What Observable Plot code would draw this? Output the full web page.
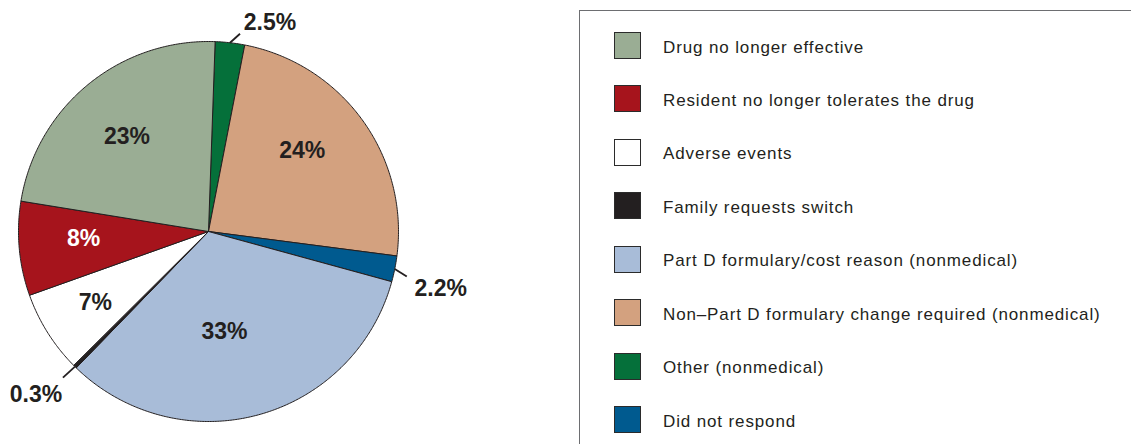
<!DOCTYPE html>
<html><head><meta charset="utf-8">
<script src="https://cdn.jsdelivr.net/npm/d3@7"></script>
<script src="https://cdn.jsdelivr.net/npm/@observablehq/plot@0.6"></script>
<style>
html,body{margin:0;padding:0;background:#fff;overflow:hidden;width:1131px;height:444px}
#wrap{position:relative;width:1131px;height:444px;overflow:hidden}
#pie{position:absolute;left:0;top:0}
#legend{position:absolute;left:579px;top:10px;width:620px;height:520px;border:1px solid #6d6e71;box-sizing:border-box}
.item{position:absolute;left:34px;height:27px;display:flex;align-items:center;white-space:nowrap}
.sw{width:25px;height:25px;border:1px solid #2b2b2b;margin-right:22px;flex:none}
.lab{font-family:"Liberation Sans",Arial,sans-serif;font-size:17px;letter-spacing:0.87px;color:#231f20;position:relative;top:2px}
</style></head>
<body><div id="wrap"><div id="pie"></div><div id="legend"></div></div>
<script>
// Legend order
const categories = [
  "Drug no longer effective",
  "Resident no longer tolerates the drug",
  "Adverse events",
  "Family requests switch",
  "Part D formulary/cost reason (nonmedical)",
  "Non\u2013Part D formulary change required (nonmedical)",
  "Other (nonmedical)",
  "Did not respond"
];
const values = [23, 8, 7, 0.3, 33, 24, 2.5, 2.2];
const valueLabels = ["23%", "8%", "7%", "0.3%", "33%", "24%", "2.5%", "2.2%"];
const colors = ["#9aad94", "#a6141c", "#ffffff", "#231f20", "#a8bcd8", "#d3a17f", "#05703a", "#005a8f"];
const labelColors = ["#231f20", "#ffffff", "#231f20", "#231f20", "#231f20", "#231f20", "#231f20", "#231f20"];
// Clockwise drawing order starting at 12 o'clock
const pieOrder = [6, 5, 7, 4, 3, 2, 1, 0];

// ---- layout constants (not data) ----
const W = 575, H = 444, CX = 208, CY = 231, R = 190;
const startOffset = 2 * Math.PI / 180;
const nudges = { // pixel nudges for labels [dx, dy] (outside labels: relative to leader end)
  "Drug no longer effective": [-2, 2],
  "Resident no longer tolerates the drug": [0, -4],
  "Adverse events": [-7, 4],
  "Part D formulary/cost reason (nonmedical)": [-17, -21],
  "Non\u2013Part D formulary change required (nonmedical)": [-8, -8],
  "Other (nonmedical)": [30, -11],
  "Did not respond": [34, 12],
  "Family requests switch": [-27, 17]
};
const leaderVec = { // pixel vector of leader lines from the rim
  "Other (nonmedical)": [10, -9],
  "Did not respond": [12, 7.5],
  "Family requests switch": [-12, 11]
};

const rows = pieOrder.map(i => ({cat: categories[i], value: values[i], label: valueLabels[i], color: colors[i], lc: labelColors[i]}));
const arcs = d3.pie().sort(null).value(d => d.value).startAngle(startOffset).endAngle(startOffset + 2 * Math.PI)(rows);

const pt = (a, r) => ({x: r * Math.sin(a), y: r * Math.cos(a)});

const sliceMarks = arcs.map(a => {
  const pts = [{x: 0, y: 0}];
  const n = Math.max(2, Math.ceil((a.endAngle - a.startAngle) / (Math.PI / 360)));
  for (let k = 0; k <= n; k++) pts.push(pt(a.startAngle + (a.endAngle - a.startAngle) * k / n, 1));
  pts.push({x: 0, y: 0});
  return Plot.line(pts, {x: "x", y: "y", fill: a.data.color, stroke: "#231f20", strokeWidth: 1, strokeLinejoin: "miter", curve: "linear"});
});

const leaderEnd = a => {
  const m = (a.startAngle + a.endAngle) / 2;
  const p1 = pt(m, 1.0);
  const v = leaderVec[a.data.cat] || [0, 0];
  return {x1: p1.x, y1: p1.y, x2: p1.x + v[0] / R, y2: p1.y - v[1] / R};
};
const small = arcs.filter(a => a.data.value < 5);
const leaders = small.map(leaderEnd);

const labels = arcs.map(a => {
  const m = (a.startAngle + a.endAngle) / 2;
  const outside = a.data.value < 5;
  let p;
  if (outside) { const l = leaderEnd(a); p = {x: l.x2, y: l.y2}; }
  else p = pt(m, 0.66);
  const nd = nudges[a.data.cat] || [0, 0];
  return {x: p.x + nd[0] / R, y: p.y - nd[1] / R, text: a.data.label, color: a.data.lc};
});

const chart = Plot.plot({
  width: W, height: H,
  marginTop: 0, marginRight: 0, marginBottom: 0, marginLeft: 0,
  x: {domain: [-CX / R, (W - CX) / R], range: [0, W], axis: null},
  y: {domain: [-(H - CY) / R, CY / R], range: [H, 0], axis: null},
  style: {background: "transparent", overflow: "visible"},
  marks: [
    ...sliceMarks,
    Plot.link(leaders, {x1: "x1", y1: "y1", x2: "x2", y2: "y2", stroke: "#231f20", strokeWidth: 1.8}),
    Plot.text(labels, {x: "x", y: "y", text: "text", fill: "color", fontSize: 23, fontWeight: "bold", fontFamily: "'Liberation Sans', Arial, sans-serif"})
  ]
});
document.getElementById("pie").appendChild(chart);

// Legend
const legend = d3.select("#legend");
categories.forEach((c, i) => {
  const item = legend.append("div").attr("class", "item").style("top", (21 + i * 53.45) + "px");
  item.append("div").attr("class", "sw").style("background", colors[i]);
  item.append("span").attr("class", "lab").text(c);
});
</script>
</body></html>
